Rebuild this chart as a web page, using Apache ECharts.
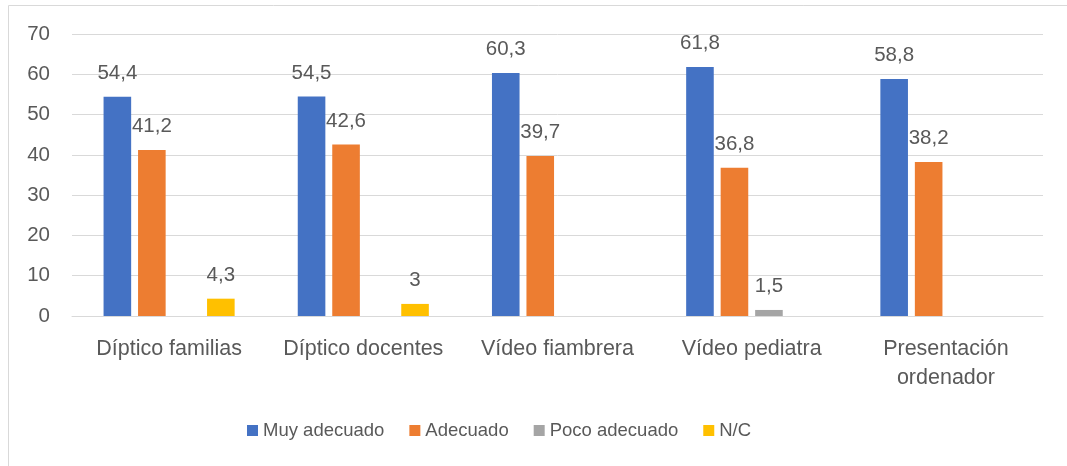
<!DOCTYPE html>
<html>
<head>
<meta charset="utf-8">
<script src="https://cdn.jsdelivr.net/npm/echarts@6/dist/echarts.min.js"></script>
<style>
  html, body { margin: 0; padding: 0; background: #fff; }
  #chart { width: 1067px; height: 466px; }
</style>
</head>
<body>
<div id="chart"></div>
<script>
const categories = ['Díptico familias', 'Díptico docentes', 'Vídeo fiambrera', 'Vídeo pediatra', 'Presentación\nordenador']
const muyAdecuado = [54.4, 54.5, 60.3, 61.8, 58.8]
const adecuado = [41.2, 42.6, 39.7, 36.8, 38.2]
const pocoAdecuado = [null, null, null, 1.5, null]
const noContesta = [4.3, 3, null, null, null]

const seriesNames = ['Muy adecuado', 'Adecuado', 'Poco adecuado', 'N/C']
const seriesData = [muyAdecuado, adecuado, pocoAdecuado, noContesta]
const colors = ['#4472C4', '#ED7D31', '#A5A5A5', '#FFC000']

const textColor = '#595959'
const fontFamily = 'Liberation Sans, Arial, sans-serif'

const chart = echarts.init(document.getElementById('chart'))

const option = {
  animation: false,
  textStyle: { fontFamily: fontFamily },
  graphic: [
    {
      type: 'rect',
      shape: { x: 8.5, y: 5.5, width: 1200, height: 600 },
      style: { fill: 'none', stroke: '#d9d9d9', lineWidth: 1 }
    }
  ],
  legend: {
    data: seriesNames,
    bottom: 21,
    left: 242,
    itemWidth: 11,
    itemHeight: 11,
    itemGap: 25,
    icon: 'rect',
    textStyle: { color: textColor, fontSize: 18.5, fontFamily: fontFamily }
  },
  grid: {
    left: 72,
    right: 24,
    top: 34,
    bottom: 150
  },
  xAxis: {
    type: 'category',
    data: categories,
    axisLine: { lineStyle: { color: '#d9d9d9' } },
    axisTick: { show: false },
    axisLabel: {
      color: textColor,
      fontSize: 21.5,
      lineHeight: 29,
      margin: 19,
      interval: 0
    }
  },
  yAxis: {
    type: 'value',
    min: 0,
    max: 70,
    interval: 10,
    axisLine: { show: false },
    axisTick: { show: false },
    splitLine: { lineStyle: { color: '#d9d9d9' } },
    axisLabel: { color: textColor, fontSize: 20.5, margin: 22 }
  },
  series: seriesData.map((d, i) => ({
    name: seriesNames[i],
    type: 'bar',
    data: d,
    barGap: '25%',
    barCategoryGap: '32.5%',
    itemStyle: { color: colors[i] },
    label: {
      show: true,
      position: 'top',
      distance: 13,
      color: textColor,
      fontSize: 20.5,
      formatter: p => String(p.value).replace('.', ',')
    }
  }))
}

chart.setOption(option)
</script>
</body>
</html>
